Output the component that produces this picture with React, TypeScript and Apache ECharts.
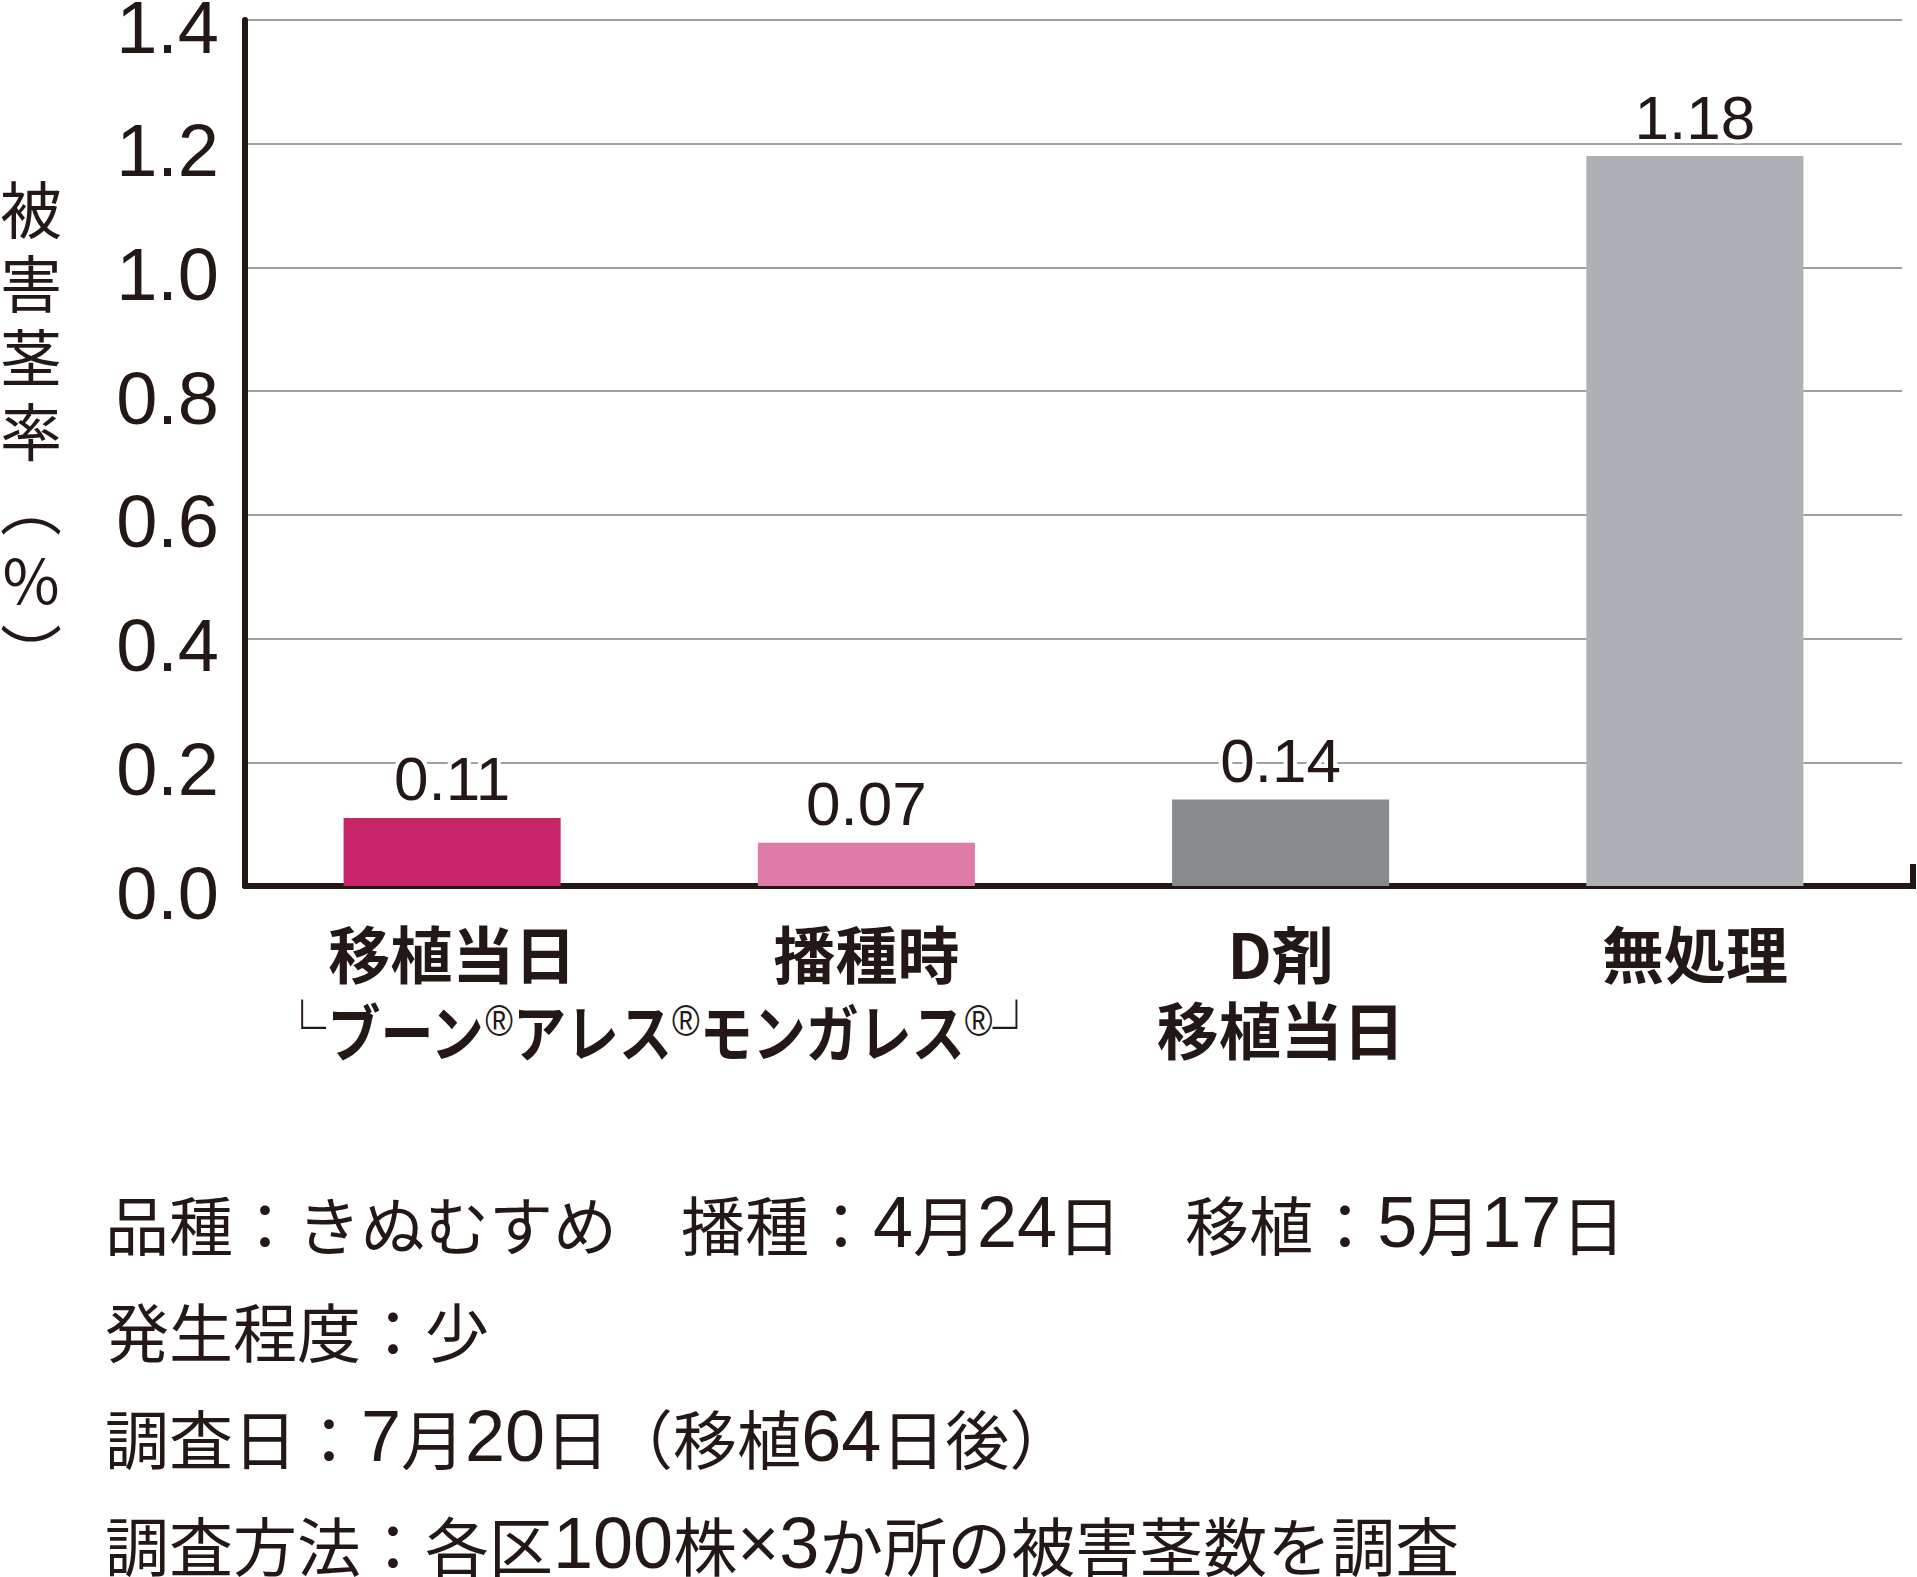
import React, { useEffect, useRef } from 'react';
import * as echarts from 'echarts';

// 処理区ごとの被害茎率(%)
const categories = ['移植当日', '播種時', 'D剤\n移植当日', '無処理'];
const damageRate = [0.11, 0.07, 0.14, 1.18];
const yTicks = [0, 0.2, 0.4, 0.6, 0.8, 1.0, 1.2, 1.4];
const sharedLabel = ['└', 'ブーン', '®', 'アレス', '®', 'モンガレス', '®', '┘'];
const notes = [
  '品種：きぬむすめ　播種：4月24日　移植：5月17日',
  '発生程度：少',
  '調査日：7月20日（移植64日後）',
  '調査方法：各区100株×3か所の被害茎数を調査',
];

const barColors = ['#C8246A', '#DE7BA6', '#878B8E', '#ADB0B4'];
const INK = '#231815';
const JP = '"Noto Sans CJK JP", "Noto Sans", sans-serif';
const LATIN = '"Liberation Sans", Arial, sans-serif';

// 数字だけ欧文フォントにする
const toRich = (s: string) =>
  s
    .split(/(\d+|×)/)
    .filter((p) => p !== '')
    .map((p) => (/^(\d+|×)$/.test(p) ? `{d|${p}}` : `{j|${p}}`))
    .join('');

function App() {
  const chartRef = useRef<HTMLDivElement | null>(null);

  useEffect(() => {
    if (!chartRef.current) return undefined;

    const myChart = echarts.init(chartRef.current, null, { renderer: 'svg' });

    const option = {
      animation: false,
      grid: { left: 245, right: 15, top: 20, bottom: 691, outerBoundsMode: 'none' },
      xAxis: {
        type: 'category',
        data: categories,
        axisLine: { lineStyle: { color: INK, width: 6 } },
        axisTick: { show: false },
        axisLabel: {
          margin: 28,
          color: INK,
          fontFamily: JP,
          fontWeight: 'bold',
          fontSize: 62,
          lineHeight: 76,
        },
      },
      yAxis: {
        type: 'value',
        min: 0,
        max: yTicks[yTicks.length - 1],
        interval: 0.2,
        axisLine: { show: true, lineStyle: { color: INK, width: 6 } },
        axisTick: { show: false },
        axisLabel: {
          margin: 26,
          color: INK,
          fontFamily: LATIN,
          fontSize: 74,
          // 目盛り線より少し下に数字を置く
          verticalAlign: 'top',
          lineHeight: 14,
          formatter: (v: number) => v.toFixed(1),
        },
        splitLine: { lineStyle: { color: '#a0a0a0', width: 2 } },
      },
      series: [
        {
          type: 'bar',
          barWidth: '52.4%',
          data: damageRate.map((v, i) => ({
            value: v,
            itemStyle: { color: barColors[i] },
          })),
          label: {
            show: true,
            position: 'top',
            distance: 8,
            color: INK,
            fontFamily: LATIN,
            fontSize: 62,
            textBorderColor: '#ffffff',
            textBorderWidth: 8,
            formatter: (p: { value: number }) => p.value.toFixed(2),
          },
        },
      ],
    };

    myChart.setOption(option);

    // 1番目と2番目の処理区にまたがる薬剤名
    const c0 = myChart.convertToPixel({ xAxisIndex: 0 }, 0) as number;
    const c1 = myChart.convertToPixel({ xAxisIndex: 0 }, 1) as number;
    const sharedText = sharedLabel
      .map((s) => {
        if (s === '®') return `{r|${s}}`;
        if (s === '└' || s === '┘') return `{b|${s}}`;
        return `{k|${s}}`;
      })
      .join('');

    myChart.setOption({
      graphic: [
        {
          type: 'text',
          x: 31,
          y: 170,
          style: {
            text: '被\n害\n茎\n率\n︵\n%\n︶',
            fill: INK,
            fontFamily: JP,
            fontSize: 62,
            lineHeight: 74,
            align: 'center',
            verticalAlign: 'top',
          },
        },
        {
          type: 'text',
          x: (c0 + c1) / 2,
          y: 1030,
          scaleX: 0.855,
          style: {
            text: sharedText,
            fill: INK,
            align: 'center',
            verticalAlign: 'middle',
            rich: {
              k: { fontFamily: JP, fontWeight: 'bold', fontSize: 62, fill: INK },
              r: { fontFamily: LATIN, fontSize: 44, fill: INK, padding: [0, 0, 18, 0] },
              b: { fontFamily: JP, fontSize: 56, fill: INK, padding: [0, 0, 10, 0] },
            },
          },
        },
        {
          type: 'polyline',
          shape: { points: [[1899, 886], [1913, 886], [1913, 864]] },
          style: { stroke: INK, lineWidth: 6, fill: null },
        },
        ...notes.map((t, i) => ({
          type: 'text',
          x: 105,
          y: 1222 + i * 107,
          style: {
            text: toRich(t),
            fill: INK,
            align: 'left',
            verticalAlign: 'middle',
            rich: {
              j: { fontFamily: JP, fontSize: 64, lineHeight: 60, fill: INK },
              d: { fontFamily: LATIN, fontSize: 72, lineHeight: 60, fill: INK },
            },
          },
        })),
      ],
    });

    const resizeHandler = () => {
      myChart.resize();
    };
    window.addEventListener('resize', resizeHandler);

    return () => {
      myChart.dispose();
      window.removeEventListener('resize', resizeHandler);
    };
  }, []);

  return (
    <div
      ref={chartRef}
      style={{
        position: 'absolute',
        left: 0,
        top: 0,
        width: '1917px',
        height: '1577px',
        background: '#ffffff',
      }}
    />
  );
}

export default App;
